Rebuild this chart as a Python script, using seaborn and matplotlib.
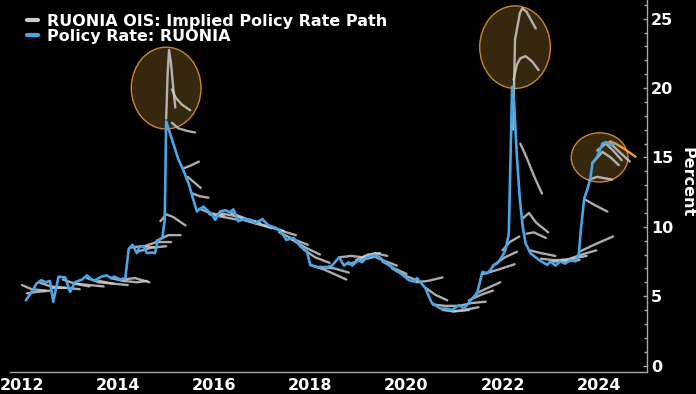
import numpy as np
import pandas as pd
import matplotlib
matplotlib.use("Agg")
import matplotlib.pyplot as plt
from matplotlib.lines import Line2D
from matplotlib.patches import Ellipse
import seaborn as sns

# RUONIA policy rate (decimal year, percent)
ruonia_dates = [
    2012.08, 2012.2, 2012.3, 2012.4, 2012.5, 2012.58, 2012.65, 2012.76, 2012.9, 2013.0,
    2013.1, 2013.25, 2013.35, 2013.45, 2013.52, 2013.65, 2013.76, 2013.85, 2013.92, 2014.05,
    2014.15, 2014.22, 2014.3, 2014.39, 2014.45, 2014.53, 2014.6, 2014.7, 2014.77, 2014.82,
    2014.92, 2014.97, 2015.0, 2015.12, 2015.26, 2015.33, 2015.47, 2015.57, 2015.64, 2015.7,
    2015.78, 2015.85, 2015.95, 2016.02, 2016.12, 2016.23, 2016.32, 2016.4, 2016.5, 2016.62,
    2016.75, 2016.85, 2017.0, 2017.13, 2017.3, 2017.44, 2017.5, 2017.65, 2017.79, 2017.93,
    2018.0, 2018.14, 2018.35, 2018.45, 2018.6, 2018.7, 2018.8, 2018.87, 2019.0, 2019.08,
    2019.18, 2019.32, 2019.42, 2019.63, 2019.84, 2020.05, 2020.15, 2020.22, 2020.4, 2020.47,
    2020.53, 2020.71, 2020.85, 2020.95, 2021.09, 2021.2, 2021.33, 2021.47, 2021.58, 2021.68,
    2021.75, 2021.82, 2021.89, 2021.99, 2022.06, 2022.13, 2022.2, 2022.24, 2022.3, 2022.36,
    2022.42, 2022.48, 2022.58, 2022.76, 2022.93, 2023.0, 2023.1, 2023.2, 2023.3, 2023.42,
    2023.52, 2023.59, 2023.63, 2023.7, 2023.76, 2023.83, 2023.87, 2023.97, 2024.08, 2024.15,
    2024.25, 2024.32,
]
ruonia_rate = [
    4.7, 5.3, 5.9, 6.15, 6.0, 6.1, 4.6, 6.4, 6.35, 5.3,
    6.0, 6.2, 6.5, 6.2, 6.15, 6.4, 6.5, 6.3, 6.4, 6.2,
    6.3, 8.4, 8.7, 8.1, 8.6, 8.6, 8.1, 8.15, 8.1, 9.0,
    9.2, 10.5, 17.6, 16.3, 14.8, 14.3, 13.1, 11.9, 11.1, 11.3,
    11.45, 11.2, 10.9, 10.5, 11.1, 11.2, 11.05, 11.25, 10.4, 10.55,
    10.5, 10.25, 10.55, 10.1, 9.9, 9.4, 9.05, 9.2, 8.6, 8.2,
    7.25, 7.1, 7.1, 7.2, 7.8, 7.2, 7.45, 7.2, 7.6, 7.45,
    7.8, 7.95, 7.85, 7.25, 6.75, 6.15, 6.05, 6.3, 5.55, 4.95,
    4.5, 4.1, 4.1, 4.0, 4.35, 4.1, 4.7, 5.2, 6.75, 6.65,
    6.9, 7.25, 7.35, 7.85, 8.3, 9.5, 20.1, 19.0, 15.0, 12.0,
    10.0, 8.8, 8.1, 7.6, 7.25, 7.5, 7.2, 7.5, 7.35, 7.6,
    7.5, 8.1, 9.8, 12.05, 12.65, 13.5, 14.6, 15.05, 16.0, 16.1,
    15.9, 16.0,
]

# RUONIA OIS implied policy rate paths: (decimal year, percent)
ois_paths = [
    [(2012.0, 5.8), (2012.2, 5.5), (2012.5, 5.4)],
    [(2012.1, 5.2), (2012.3, 5.3), (2012.6, 5.4)],
    [(2012.35, 6.0), (2012.6, 5.7), (2012.9, 5.6)],
    [(2012.6, 5.6), (2012.9, 5.6), (2013.2, 5.5)],
    [(2012.85, 6.2), (2013.1, 5.9), (2013.4, 5.7)],
    [(2013.1, 5.9), (2013.4, 5.8), (2013.7, 5.7)],
    [(2013.35, 6.3), (2013.6, 6.0), (2013.9, 5.9)],
    [(2013.6, 6.1), (2013.9, 5.9), (2014.2, 5.8)],
    [(2013.85, 6.3), (2014.1, 6.1), (2014.4, 6.0), (2014.6, 6.1)],
    [(2014.1, 6.2), (2014.35, 6.3), (2014.65, 6.0)],
    [(2014.25, 8.5), (2014.5, 8.6), (2014.8, 8.5)],
    [(2014.4, 8.2), (2014.7, 8.5), (2015.0, 8.6)],
    [(2014.55, 8.6), (2014.8, 8.9), (2015.1, 8.9)],
    [(2014.8, 9.0), (2015.05, 9.4), (2015.3, 9.4)],
    [(2014.88, 10.4), (2015.0, 10.9), (2015.15, 10.7), (2015.4, 10.1)],
    [(2015.0, 17.8), (2015.03, 21.0), (2015.06, 22.75), (2015.1, 21.8), (2015.15, 19.9), (2015.19, 18.6)],
    [(2015.12, 19.9), (2015.2, 19.3), (2015.33, 18.8), (2015.5, 18.4)],
    [(2015.12, 17.5), (2015.25, 17.1), (2015.45, 16.9), (2015.6, 16.8)],
    [(2015.35, 14.2), (2015.5, 14.4), (2015.68, 14.7)],
    [(2015.45, 13.6), (2015.55, 13.3), (2015.72, 12.8)],
    [(2015.55, 12.4), (2015.7, 12.2), (2015.88, 12.1)],
    [(2015.7, 11.3), (2015.9, 11.0), (2016.2, 10.8)],
    [(2015.9, 10.9), (2016.2, 10.7), (2016.5, 10.5)],
    [(2016.1, 11.0), (2016.4, 10.8), (2016.7, 10.5)],
    [(2016.35, 11.0), (2016.65, 10.6), (2016.95, 10.3)],
    [(2016.6, 10.5), (2016.9, 10.2), (2017.2, 9.9)],
    [(2016.85, 10.3), (2017.15, 10.0), (2017.45, 9.7)],
    [(2017.1, 10.1), (2017.4, 9.7), (2017.7, 9.4)],
    [(2017.35, 9.6), (2017.65, 9.1), (2017.95, 8.7)],
    [(2017.6, 9.1), (2017.9, 8.5), (2018.2, 8.0)],
    [(2017.85, 8.4), (2018.1, 7.8), (2018.4, 7.4)],
    [(2018.0, 7.25), (2018.3, 6.9), (2018.75, 6.2)],
    [(2018.2, 7.1), (2018.5, 7.0), (2018.8, 6.7)],
    [(2018.6, 7.8), (2018.85, 7.9), (2019.1, 7.8)],
    [(2018.8, 7.3), (2019.05, 7.6), (2019.3, 7.8)],
    [(2018.95, 7.6), (2019.2, 8.0), (2019.45, 8.1)],
    [(2019.1, 7.8), (2019.35, 8.1), (2019.6, 7.9)],
    [(2019.3, 7.9), (2019.5, 7.6), (2019.8, 7.2)],
    [(2019.5, 7.5), (2019.75, 7.0), (2020.0, 6.6)],
    [(2019.7, 7.0), (2019.95, 6.5), (2020.25, 6.1)],
    [(2020.2, 6.0), (2020.45, 6.1), (2020.75, 6.35)],
    [(2020.4, 5.6), (2020.6, 5.1), (2020.85, 4.7)],
    [(2020.55, 4.4), (2020.8, 4.3), (2021.05, 4.3)],
    [(2020.75, 4.0), (2021.0, 3.9), (2021.3, 4.0)],
    [(2020.95, 3.9), (2021.2, 4.0), (2021.5, 4.2)],
    [(2021.1, 4.3), (2021.35, 4.5), (2021.65, 4.6)],
    [(2021.3, 4.7), (2021.55, 5.1), (2021.8, 5.4)],
    [(2021.45, 5.2), (2021.7, 5.6), (2021.95, 6.0)],
    [(2021.6, 6.6), (2021.9, 6.9), (2022.25, 7.3)],
    [(2021.8, 7.2), (2022.05, 7.8), (2022.3, 8.2)],
    [(2022.0, 8.3), (2022.15, 8.9), (2022.35, 9.3)],
    [(2022.22, 17.0), (2022.26, 23.5), (2022.36, 25.4), (2022.41, 25.75), (2022.5, 25.5), (2022.69, 24.3)],
    [(2022.23, 20.6), (2022.3, 21.7), (2022.37, 22.15), (2022.48, 22.3), (2022.62, 21.9), (2022.75, 21.3)],
    [(2022.37, 16.0), (2022.5, 15.0), (2022.65, 13.7), (2022.82, 12.4)],
    [(2022.42, 10.6), (2022.55, 11.0), (2022.7, 10.3), (2022.95, 9.6)],
    [(2022.5, 9.5), (2022.65, 9.6), (2022.9, 9.2)],
    [(2022.58, 8.3), (2022.8, 8.1), (2023.1, 7.9)],
    [(2022.8, 7.7), (2023.05, 7.6), (2023.35, 7.6)],
    [(2023.0, 7.5), (2023.3, 7.5), (2023.6, 7.6)],
    [(2023.2, 7.6), (2023.45, 7.7), (2023.75, 7.9)],
    [(2023.4, 7.7), (2023.65, 8.0), (2023.95, 8.3)],
    [(2023.6, 8.2), (2023.9, 8.7), (2024.3, 9.3)],
    [(2023.7, 12.0), (2023.9, 11.6), (2024.18, 11.1)],
    [(2023.8, 13.4), (2023.97, 13.6), (2024.28, 13.4)],
    [(2023.87, 14.6), (2024.08, 15.4), (2024.25, 15.0), (2024.42, 14.45)],
    [(2023.97, 15.5), (2024.15, 16.0), (2024.3, 15.5), (2024.48, 14.8)],
    [(2024.08, 16.0), (2024.25, 16.0), (2024.4, 15.5), (2024.65, 14.7)],
]

# latest implied path (orange)
latest_years = [2024.15, 2024.25, 2024.35, 2024.52, 2024.77]
latest_values = [16.0, 16.15, 16.0, 15.65, 15.05]

# highlighted episodes: centre (year, pct), width (years), height (pct)
highlights = [
    ((2015.0, 20.0), 1.45, 5.9),
    ((2022.26, 22.95), 1.47, 5.95),
    ((2024.02, 15.0), 1.18, 3.55),
]

rows = []
for i, path in enumerate(ois_paths):
    for yr, val in path:
        rows.append({"path": i, "year": yr, "value": val})
paths_df = pd.DataFrame(rows)

sns.set_theme(style="dark")
plt.rcParams.update({
    "figure.facecolor": "black",
    "axes.facecolor": "black",
    "savefig.facecolor": "black",
    "font.family": ["DejaVu Sans"],
    "font.weight": "bold",
})

BLUE = "#4aa6e6"
GRAY = "#cbcbcb"
ORANGE = "#f09a35"
AXIS = "#a8a8a8"

fig = plt.figure(figsize=(6.96, 3.94), dpi=100)
ax = fig.add_axes([10 / 696, 21.7 / 394, 636.7 / 696, 372.3 / 394])

for (cx, cy), w, h in highlights:
    ax.add_patch(Ellipse((cx, cy), w, h, facecolor="#36270f",
                         edgecolor="#c98632", lw=1, zorder=1))

sns.lineplot(data=paths_df, x="year", y="value", units="path", estimator=None,
             sort=False, color=GRAY, lw=1.7, alpha=0.85, ax=ax, legend=False, zorder=2)
sns.lineplot(x=latest_years, y=latest_values, color=ORANGE, lw=1.7, ax=ax, zorder=3)
sns.lineplot(x=ruonia_dates, y=ruonia_rate, color=BLUE, lw=1.9, ax=ax, zorder=4)

ax.set_xlim(2011.75, 2025.0)
ax.set_ylim(-0.49, 26.35)
ax.grid(False)

ax.yaxis.tick_right()
ax.set_yticks(range(0, 26, 5))
ax.set_yticks(range(0, 27), minor=True)
ax.set_xticks(range(2012, 2025, 2))
ax.set_xticks(range(2013, 2025, 2), minor=True)

ax.tick_params(axis="x", which="major", direction="in", length=6, width=1,
               color=AXIS, pad=4, labelcolor="white", labelsize=11.5)
ax.tick_params(axis="x", which="minor", direction="in", length=4, width=1, color=AXIS)
ax.tick_params(axis="y", which="major", direction="in", length=3, width=1,
               color=AXIS, pad=3, labelcolor="white", labelsize=11.5,
               right=True, left=False)
ax.tick_params(axis="y", which="minor", direction="in", length=2, width=1,
               color=AXIS, right=True, left=False)

for side in ["left", "top"]:
    ax.spines[side].set_visible(False)
for side in ["bottom", "right"]:
    ax.spines[side].set_color(AXIS)
    ax.spines[side].set_linewidth(1)

ax.set_xlabel("")
ax.set_ylabel("Percent", rotation=270, color="white", fontsize=11.5,
              fontweight="bold", ha="center", va="center")
ax.yaxis.set_label_coords(1.063, 0.511)

handles = [Line2D([0], [0], color=GRAY, lw=3),
           Line2D([0], [0], color=BLUE, lw=3)]
labels = ["RUONIA OIS: Implied Policy Rate Path", "Policy Rate: RUONIA"]
leg = fig.legend(handles, labels, loc="upper left", bbox_to_anchor=(27 / 696, 1 - 14 / 394),
                 frameon=False, fontsize=11.5, handlelength=0.7, handletextpad=0.55,
                 labelspacing=0.0, borderpad=0, borderaxespad=0)
for t in leg.get_texts():
    t.set_color("white")
    t.set_fontweight("bold")

fig.savefig("out.png", dpi=100)
